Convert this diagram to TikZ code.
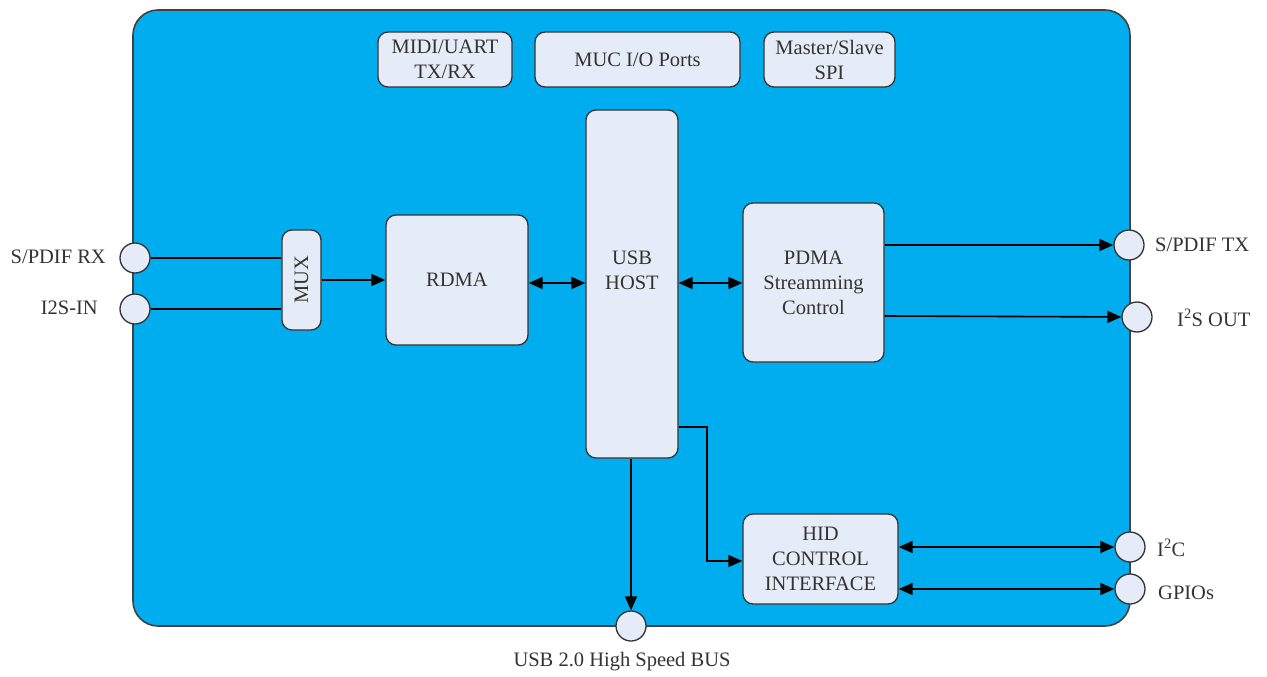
\documentclass[tikz,border=0pt]{standalone}
\usepackage{fontspec}
\setmainfont{Liberation Serif}
\usetikzlibrary{arrows.meta}
\definecolor{chipblue}{HTML}{00AEEF}
\definecolor{boxfill}{HTML}{E6ECF7}
\definecolor{txt}{HTML}{333333}
\begin{document}
\begin{tikzpicture}[x=1pt,y=-1pt,
  every node/.style={font=\fontsize{20.5}{25}\selectfont, text=txt},
  chip/.style={draw=black!75, line width=1.6pt, fill=chipblue, rounded corners=25pt, inner sep=0pt},
  blk/.style={draw=black!80, line width=1.3pt, fill=boxfill, rounded corners=10pt, inner sep=0pt, align=center},
  pin/.style={circle, draw=black!80, line width=1.3pt, fill=boxfill, minimum size=30pt, inner sep=0pt},
  lbl/.style={inner sep=0pt},
  sig/.style={line width=1.6pt, draw=black},
  arr/.style={sig, -{Triangle[length=14pt,width=12pt]}},
  darr/.style={sig, {Triangle[length=14pt,width=12pt]}-{Triangle[length=14pt,width=12pt]}},
]
\useasboundingbox (0,0) rectangle (1267,677);
\node[chip, minimum width=997pt, minimum height=616pt] (chipbox) at (631.5,318) {};

% top boxes
\node[blk, minimum width=134pt, minimum height=55pt] (midi) at (445,59.5) {MIDI/UART\\TX/RX};
\node[blk, minimum width=205pt, minimum height=55pt] (muc) at (637.5,59.5) {MUC I/O Ports};
\node[blk, minimum width=131pt, minimum height=55pt] (spi) at (829.5,59.5) {Master/Slave\\SPI};

% main blocks
\node[blk, minimum width=92pt, minimum height=348pt] (usb) at (632,284) {};
\node[lbl, align=center] (usbtext) at (632,270) {USB\\HOST};
\node[blk, minimum width=142pt, minimum height=130pt] (rdma) at (457,280) {RDMA};
\node[blk, minimum width=39pt, minimum height=100pt] (mux) at (301.5,280) {\rotatebox{90}{MUX}};
\node[blk, minimum width=141pt, minimum height=159pt] (pdma) at (813.5,282.5) {PDMA\\Streamming\\Control};
\node[blk, minimum width=155pt, minimum height=90pt] (hid) at (820.5,559) {HID\\CONTROL\\INTERFACE};

% pins
\node[pin] (sprx) at (135,258) {};
\node[pin] (i2sin) at (135,309) {};
\node[pin] (sptx) at (1129,245) {};
\node[pin] (i2sout) at (1137,317) {};
\node[pin] (i2c) at (1130,547) {};
\node[pin] (gpio) at (1130,589) {};
\node[pin] (usbbus) at (631,626) {};

% labels
\node[lbl, anchor=east] (lsprx) at (106,257) {S/PDIF RX};
\node[lbl, anchor=east] (li2sin) at (98,308) {I2S-IN};
\node[lbl, anchor=west] (lsptx) at (1155,245) {S/PDIF TX};
\node[lbl, anchor=west] (li2sout) at (1177,318) {I\textsuperscript{2}S OUT};
\node[lbl, anchor=west] (li2c) at (1157,548) {I\textsuperscript{2}C};
\node[lbl, anchor=west] (lgpio) at (1158,593) {GPIOs};
\node[lbl] (lusb) at (622,662) {USB 2.0 High Speed BUS};

% connectors
\draw[sig] (sprx) -- (mux.west |- sprx);
\draw[sig] (i2sin) -- (mux.west |- i2sin);
\draw[arr] (mux) -- (rdma);
\draw[darr] (rdma.east |- 0,283) -- (usb.west |- 0,283);
\draw[darr] (usb.east |- 0,283) -- (pdma.west |- 0,283);
\draw[arr] (pdma.east |- sptx) -- (sptx);
\draw[arr] (pdma.east |- 0,316) -- (i2sout);
\draw[arr] (usb.south -| usbbus) -- (usbbus);
\draw[arr] (usb.east |- 0,427) -| (707,561) -- (hid.west |- 0,561);
\draw[darr] (hid.east |- i2c) -- (i2c);
\draw[darr] (hid.east |- gpio) -- (gpio);
\end{tikzpicture}
\end{document}
